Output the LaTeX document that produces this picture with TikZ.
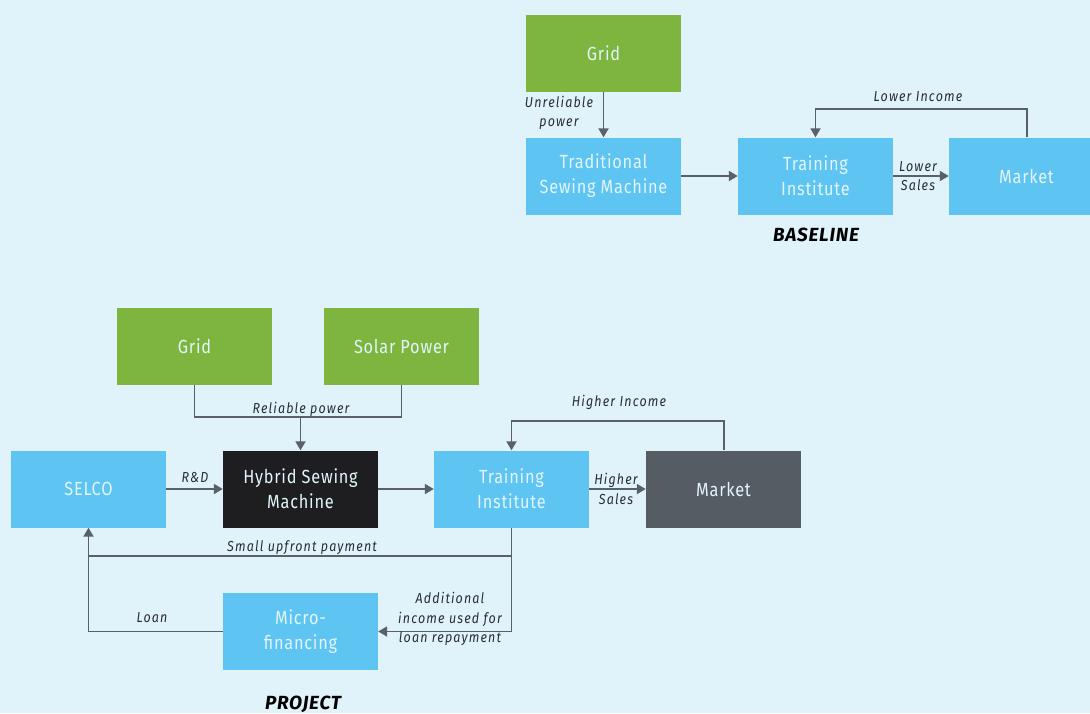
\documentclass[tikz,border=0pt]{standalone}
\usepackage{fontspec}
\setmainfont{Fira Sans}[FakeStretch=0.86]
\newfontfamily\boxfont{Fira Sans}[FakeStretch=0.86, LetterSpace=4]
\newfontfamily\labfont{Fira Sans}[FakeStretch=0.86, LetterSpace=8]
\newfontfamily\ttlfont{Fira Sans}[LetterSpace=4]
\usetikzlibrary{arrows.meta}
\definecolor{bg}{HTML}{E0F2FA}
\definecolor{blueb}{HTML}{5EC4F2}
\definecolor{greenb}{HTML}{7DB53E}
\definecolor{darkb}{HTML}{1E1E20}
\definecolor{mktb}{HTML}{565C64}
\definecolor{linec}{HTML}{5A6068}
\definecolor{lbl}{HTML}{2A2E33}
\definecolor{lighttxt}{HTML}{E2F5FC}
\tikzset{
  box/.style={rectangle, minimum width=155pt, minimum height=77pt, inner sep=0pt, align=center, font=\boxfont\fontsize{19}{25}\selectfont, text=lighttxt},
  bluebox/.style={box, fill=blueb},
  greenbox/.style={box, fill=greenb},
  darkbox/.style={box, fill=darkb},
  mktbox/.style={box, fill=mktb},
  conn/.style={draw=linec, line width=1.8pt},
  arr/.style={conn, -{Triangle[length=9pt,width=10pt]}},
  lab/.style={font=\labfont\fontsize{14.5}{19.5}\selectfont\itshape, text=lbl, align=center, inner sep=0pt},
  ttl/.style={font=\ttlfont\fontsize{19}{20}\selectfont\bfseries\itshape, text=black, inner sep=0pt}
}
\begin{document}
\begin{tikzpicture}[x=1pt,y=-1pt]
\fill[bg] (0,0) rectangle (1090,713);
\useasboundingbox (0,0) rectangle (1090,713);
% Baseline
\node[greenbox] (bgrid) at (603.5,53.5) {Grid};
\node[bluebox] (btsm) at (603.5,176) {Traditional\\Sewing Machine};
\node[bluebox] (bti) at (815.5,176) {Training\\Institute};
\node[bluebox] (bmkt) at (1026.5,176) {Market};
\node[ttl] (bl) at (816,235) {BASELINE};
\draw[arr] (bgrid) -- (btsm);
\node[lab] (lunr) at (559,113) {Unreliable\\power};
\draw[arr] (btsm) -- (bti);
\draw[arr] (bti) -- (bmkt);
\node[lab] (llows) at (918,176) {Lower\\Sales};
\coordinate (bc1) at (1027,109);
\coordinate (bc2) at (815.5,109);
\draw[arr] (bmkt.north -| bc1) -- (bc1) -- (bc2) -- (bti.north);
\node[lab] (llowi) at (918,97) {Lower Income};
% Project
\node[greenbox] (pgrid) at (194.5,346) {Grid};
\node[greenbox] (psol) at (401.5,346) {Solar Power};
\node[bluebox] (selco) at (88.5,489) {SELCO};
\node[darkbox] (hyb) at (300.5,489) {Hybrid Sewing\\Machine};
\node[bluebox] (pti) at (511.5,489) {Training\\Institute};
\node[mktbox] (pmkt) at (723.5,489) {Market};
\node[bluebox] (micro) at (300.5,631.5) {Micro-\\financing};
\node[ttl] (pj) at (303,704) {PROJECT};
\coordinate (pc1) at (194.5,417);
\coordinate (pc2) at (401.5,417);
\coordinate (pc3) at (300.5,417);
\draw[conn] (pgrid.south) -- (pc1) -- (pc2) -- (psol.south);
\draw[arr] (pc3) -- (hyb.north);
\node[lab] (lrel) at (301,409) {Reliable power};
\draw[arr] (selco) -- (hyb);
\node[lab] (lrd) at (195,477) {R\&D};
\draw[arr] (hyb) -- (pti);
\draw[arr] (pti) -- (pmkt);
\node[lab] (lhs) at (616,489) {Higher\\Sales};
\coordinate (pc4) at (724,421);
\coordinate (pc5) at (511.5,421);
\draw[arr] (pmkt.north -| pc4) -- (pc4) -- (pc5) -- (pti.north);
\node[lab] (lhi) at (619,402) {Higher Income};
\coordinate (pc6) at (511.5,556);
\coordinate (pc7) at (88.5,556);
\draw[arr] (pti.south) -- (pc6) -- (pc7) -- (selco.south);
\node[lab] (lsu) at (302,548) {Small upfront payment};
\coordinate (pc8) at (511.5,631.5);
\draw[arr] (pc6) -- (pc8) -- (micro.east);
\node[lab] (ladd) at (450,619) {Additional\\income used for\\loan repayment};
\coordinate (pc9) at (88.5,631.5);
\draw[conn] (micro.west) -- (pc9) -- (pc7);
\node[lab] (lloan) at (152,618) {Loan};
\end{tikzpicture}
\end{document}
